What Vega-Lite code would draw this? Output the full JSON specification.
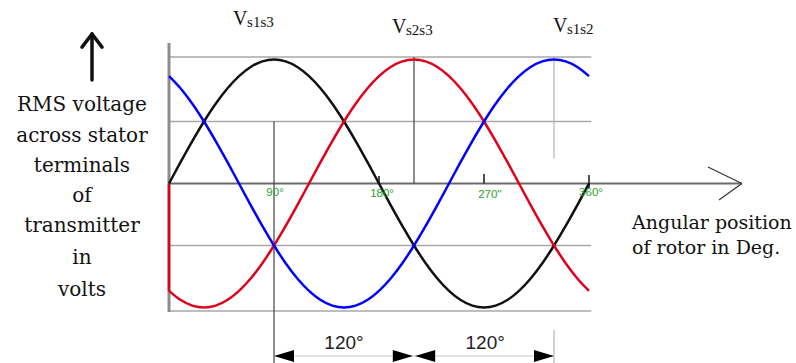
{
  "$schema": "https://vega.github.io/schema/vega-lite/v6.json",
  "width": 796,
  "height": 363,
  "autosize": {"type": "none"},
  "padding": 0,
  "background": "white",
  "config": {"view": {"stroke": null}},
  "encoding": {
    "x": {"field": "deg", "type": "quantitative", "axis": null,
          "scale": {"domain": [-144.86, 537.43], "nice": false, "zero": false}},
    "y": {"field": "v", "type": "quantitative", "axis": null,
          "scale": {"domain": [-1.4476, 1.4798], "nice": false, "zero": false}}
  },
  "datasets": {
    "curves": [
      {"deg": 0, "v": 0, "phase": "Vs1s3"}, {"deg": 10, "v": 0.174, "phase": "Vs1s3"}, {"deg": 20, "v": 0.342, "phase": "Vs1s3"}, {"deg": 30, "v": 0.5, "phase": "Vs1s3"},
      {"deg": 40, "v": 0.643, "phase": "Vs1s3"}, {"deg": 50, "v": 0.766, "phase": "Vs1s3"}, {"deg": 60, "v": 0.866, "phase": "Vs1s3"}, {"deg": 70, "v": 0.94, "phase": "Vs1s3"},
      {"deg": 80, "v": 0.985, "phase": "Vs1s3"}, {"deg": 90, "v": 1, "phase": "Vs1s3"}, {"deg": 100, "v": 0.985, "phase": "Vs1s3"}, {"deg": 110, "v": 0.94, "phase": "Vs1s3"},
      {"deg": 120, "v": 0.866, "phase": "Vs1s3"}, {"deg": 130, "v": 0.766, "phase": "Vs1s3"}, {"deg": 140, "v": 0.643, "phase": "Vs1s3"}, {"deg": 150, "v": 0.5, "phase": "Vs1s3"},
      {"deg": 160, "v": 0.342, "phase": "Vs1s3"}, {"deg": 170, "v": 0.174, "phase": "Vs1s3"}, {"deg": 180, "v": 0, "phase": "Vs1s3"}, {"deg": 190, "v": -0.174, "phase": "Vs1s3"},
      {"deg": 200, "v": -0.342, "phase": "Vs1s3"}, {"deg": 210, "v": -0.5, "phase": "Vs1s3"}, {"deg": 220, "v": -0.643, "phase": "Vs1s3"}, {"deg": 230, "v": -0.766, "phase": "Vs1s3"},
      {"deg": 240, "v": -0.866, "phase": "Vs1s3"}, {"deg": 250, "v": -0.94, "phase": "Vs1s3"}, {"deg": 260, "v": -0.985, "phase": "Vs1s3"}, {"deg": 270, "v": -1, "phase": "Vs1s3"},
      {"deg": 280, "v": -0.985, "phase": "Vs1s3"}, {"deg": 290, "v": -0.94, "phase": "Vs1s3"}, {"deg": 300, "v": -0.866, "phase": "Vs1s3"}, {"deg": 310, "v": -0.766, "phase": "Vs1s3"},
      {"deg": 320, "v": -0.643, "phase": "Vs1s3"}, {"deg": 330, "v": -0.5, "phase": "Vs1s3"}, {"deg": 340, "v": -0.342, "phase": "Vs1s3"}, {"deg": 350, "v": -0.174, "phase": "Vs1s3"},
      {"deg": 360, "v": 0, "phase": "Vs1s3"},

      {"deg": 0, "v": -0.866, "phase": "Vs2s3"}, {"deg": 10, "v": -0.94, "phase": "Vs2s3"}, {"deg": 20, "v": -0.985, "phase": "Vs2s3"}, {"deg": 30, "v": -1, "phase": "Vs2s3"},
      {"deg": 40, "v": -0.985, "phase": "Vs2s3"}, {"deg": 50, "v": -0.94, "phase": "Vs2s3"}, {"deg": 60, "v": -0.866, "phase": "Vs2s3"}, {"deg": 70, "v": -0.766, "phase": "Vs2s3"},
      {"deg": 80, "v": -0.643, "phase": "Vs2s3"}, {"deg": 90, "v": -0.5, "phase": "Vs2s3"}, {"deg": 100, "v": -0.342, "phase": "Vs2s3"}, {"deg": 110, "v": -0.174, "phase": "Vs2s3"},
      {"deg": 120, "v": 0, "phase": "Vs2s3"}, {"deg": 130, "v": 0.174, "phase": "Vs2s3"}, {"deg": 140, "v": 0.342, "phase": "Vs2s3"}, {"deg": 150, "v": 0.5, "phase": "Vs2s3"},
      {"deg": 160, "v": 0.643, "phase": "Vs2s3"}, {"deg": 170, "v": 0.766, "phase": "Vs2s3"}, {"deg": 180, "v": 0.866, "phase": "Vs2s3"}, {"deg": 190, "v": 0.94, "phase": "Vs2s3"},
      {"deg": 200, "v": 0.985, "phase": "Vs2s3"}, {"deg": 210, "v": 1, "phase": "Vs2s3"}, {"deg": 220, "v": 0.985, "phase": "Vs2s3"}, {"deg": 230, "v": 0.94, "phase": "Vs2s3"},
      {"deg": 240, "v": 0.866, "phase": "Vs2s3"}, {"deg": 250, "v": 0.766, "phase": "Vs2s3"}, {"deg": 260, "v": 0.643, "phase": "Vs2s3"}, {"deg": 270, "v": 0.5, "phase": "Vs2s3"},
      {"deg": 280, "v": 0.342, "phase": "Vs2s3"}, {"deg": 290, "v": 0.174, "phase": "Vs2s3"}, {"deg": 300, "v": 0, "phase": "Vs2s3"}, {"deg": 310, "v": -0.174, "phase": "Vs2s3"},
      {"deg": 320, "v": -0.342, "phase": "Vs2s3"}, {"deg": 330, "v": -0.5, "phase": "Vs2s3"}, {"deg": 340, "v": -0.643, "phase": "Vs2s3"}, {"deg": 350, "v": -0.766, "phase": "Vs2s3"},
      {"deg": 360, "v": -0.866, "phase": "Vs2s3"},

      {"deg": 0, "v": 0.866, "phase": "Vs1s2"}, {"deg": 10, "v": 0.766, "phase": "Vs1s2"}, {"deg": 20, "v": 0.643, "phase": "Vs1s2"}, {"deg": 30, "v": 0.5, "phase": "Vs1s2"},
      {"deg": 40, "v": 0.342, "phase": "Vs1s2"}, {"deg": 50, "v": 0.174, "phase": "Vs1s2"}, {"deg": 60, "v": 0, "phase": "Vs1s2"}, {"deg": 70, "v": -0.174, "phase": "Vs1s2"},
      {"deg": 80, "v": -0.342, "phase": "Vs1s2"}, {"deg": 90, "v": -0.5, "phase": "Vs1s2"}, {"deg": 100, "v": -0.643, "phase": "Vs1s2"}, {"deg": 110, "v": -0.766, "phase": "Vs1s2"},
      {"deg": 120, "v": -0.866, "phase": "Vs1s2"}, {"deg": 130, "v": -0.94, "phase": "Vs1s2"}, {"deg": 140, "v": -0.985, "phase": "Vs1s2"}, {"deg": 150, "v": -1, "phase": "Vs1s2"},
      {"deg": 160, "v": -0.985, "phase": "Vs1s2"}, {"deg": 170, "v": -0.94, "phase": "Vs1s2"}, {"deg": 180, "v": -0.866, "phase": "Vs1s2"}, {"deg": 190, "v": -0.766, "phase": "Vs1s2"},
      {"deg": 200, "v": -0.643, "phase": "Vs1s2"}, {"deg": 210, "v": -0.5, "phase": "Vs1s2"}, {"deg": 220, "v": -0.342, "phase": "Vs1s2"}, {"deg": 230, "v": -0.174, "phase": "Vs1s2"},
      {"deg": 240, "v": 0, "phase": "Vs1s2"}, {"deg": 250, "v": 0.174, "phase": "Vs1s2"}, {"deg": 260, "v": 0.342, "phase": "Vs1s2"}, {"deg": 270, "v": 0.5, "phase": "Vs1s2"},
      {"deg": 280, "v": 0.643, "phase": "Vs1s2"}, {"deg": 290, "v": 0.766, "phase": "Vs1s2"}, {"deg": 300, "v": 0.866, "phase": "Vs1s2"}, {"deg": 310, "v": 0.94, "phase": "Vs1s2"},
      {"deg": 320, "v": 0.985, "phase": "Vs1s2"}, {"deg": 330, "v": 1, "phase": "Vs1s2"}, {"deg": 340, "v": 0.985, "phase": "Vs1s2"}, {"deg": 350, "v": 0.94, "phase": "Vs1s2"},
      {"deg": 360, "v": 0.866, "phase": "Vs1s2"}
    ],
    "grid": [
      {"deg": 0, "deg2": 362, "v": 1.02},
      {"deg": 0, "deg2": 362, "v": 0.5},
      {"deg": 0, "deg2": 362, "v": -0.5},
      {"deg": 0, "deg2": 362, "v": -1.028}
    ],
    "axisX": [{"deg": 0, "deg2": 491, "v": 0}],
    "chevron": [
      {"deg": 462, "v": 0.133, "deg2": 491, "v2": 0},
      {"deg": 491, "v": 0, "deg2": 471.4, "v2": -0.133}
    ],
    "axisY": [{"deg": 0, "v": -1.036, "v2": 1.133}],
    "darkV": [
      {"deg": 90, "v": 0.5, "v2": -1.4476},
      {"deg": 210, "v": 1.02, "v2": 0}
    ],
    "lightV": [
      {"deg": 330, "v": 1.02, "v2": 0.2},
      {"deg": 330, "v": -1.181, "v2": -1.4476}
    ],
    "ticks": [
      {"deg": 180, "v": 0.06, "v2": -0.01},
      {"deg": 270, "v": 0.077, "v2": 0},
      {"deg": 360, "v": 0.069, "v2": -0.036}
    ],
    "redStart": [{"deg": 0, "v": 0, "v2": -0.866}],
    "upArrow": [
      {"deg": -66, "v": 0.835, "deg2": -66, "v2": 1.19},
      {"deg": -74.6, "v": 1.1, "deg2": -66, "v2": 1.206},
      {"deg": -66, "v": 1.206, "deg2": -57.4, "v2": 1.1}
    ],
    "dimLine": [{"deg": 90, "deg2": 330, "v": -1.391}],
    "headsLeft": [{"deg": 90, "v": -1.391}, {"deg": 211, "v": -1.391}],
    "headsRight": [{"deg": 209, "v": -1.391}, {"deg": 330, "v": -1.391}],
    "vMain": [
      {"deg": 54.9, "v": 1.278, "label": "V"},
      {"deg": 191.1, "v": 1.214, "label": "V"},
      {"deg": 329.1, "v": 1.222, "label": "V"}
    ],
    "vSub": [
      {"deg": 66.9, "v": 1.262, "label": "s1s3"},
      {"deg": 203.1, "v": 1.198, "label": "s2s3"},
      {"deg": 341.1, "v": 1.206, "label": "s1s2"}
    ],
    "yTitle": [
      {"deg": -74.6, "v": 0.633, "label": "RMS voltage"},
      {"deg": -74.6, "v": 0.383, "label": "across stator"},
      {"deg": -74.6, "v": 0.141, "label": "terminals"},
      {"deg": -74.6, "v": -0.101, "label": "of"},
      {"deg": -74.6, "v": -0.343, "label": "transmitter"},
      {"deg": -74.6, "v": -0.601, "label": "in"},
      {"deg": -74.6, "v": -0.859, "label": "volts"}
    ],
    "xTitle": [
      {"deg": 396.9, "v": -0.319, "label": "Angular position"},
      {"deg": 396.9, "v": -0.52, "label": "of rotor in Deg."}
    ],
    "degLabels": [
      {"deg": 90.9, "v": -0.077, "label": "90°"},
      {"deg": 182.6, "v": -0.085, "label": "180°"},
      {"deg": 275.1, "v": -0.093, "label": "270''"},
      {"deg": 361.7, "v": -0.077, "label": "360°"}
    ],
    "spans": [
      {"deg": 150, "v": -1.286, "label": "120°"},
      {"deg": 271, "v": -1.286, "label": "120°"}
    ]
  },
  "layer": [
    {"data": {"name": "grid"}, "mark": {"type": "rule", "color": "#a8a8a8", "strokeWidth": 1.5},
     "encoding": {"x2": {"field": "deg2"}}},
    {"data": {"name": "axisY"}, "mark": {"type": "rule", "color": "#8c8c8c", "strokeWidth": 3},
     "encoding": {"y2": {"field": "v2"}}},
    {"data": {"name": "axisX"}, "mark": {"type": "rule", "color": "#6a6a6a", "strokeWidth": 2},
     "encoding": {"x2": {"field": "deg2"}}},
    {"data": {"name": "chevron"}, "mark": {"type": "rule", "color": "#333333", "strokeWidth": 1.2},
     "encoding": {"x2": {"field": "deg2"}, "y2": {"field": "v2"}}},
    {"data": {"name": "darkV"}, "mark": {"type": "rule", "color": "#444444", "strokeWidth": 1.2},
     "encoding": {"y2": {"field": "v2"}}},
    {"data": {"name": "lightV"}, "mark": {"type": "rule", "color": "#b5b5b5", "strokeWidth": 1.2},
     "encoding": {"y2": {"field": "v2"}}},
    {"data": {"name": "ticks"}, "mark": {"type": "rule", "color": "#222222", "strokeWidth": 1.6},
     "encoding": {"y2": {"field": "v2"}}},
    {"data": {"name": "dimLine"}, "mark": {"type": "rule", "color": "#c4c4c4", "strokeWidth": 1},
     "encoding": {"x2": {"field": "deg2"}}},
    {"data": {"name": "redStart"}, "mark": {"type": "rule", "color": "#e0001b", "strokeWidth": 2.5},
     "encoding": {"y2": {"field": "v2"}}},
    {"data": {"name": "curves"},
     "mark": {"type": "line", "strokeWidth": 2.5, "interpolate": "monotone"},
     "encoding": {
       "color": {"field": "phase", "type": "nominal", "legend": null,
                 "scale": {"domain": ["Vs1s3", "Vs2s3", "Vs1s2"], "range": ["#111111", "#e0001b", "#0000ff"]}}
     }},
    {"data": {"name": "upArrow"}, "mark": {"type": "rule", "color": "#111111", "strokeWidth": 3.5, "strokeCap": "round"},
     "encoding": {"x2": {"field": "deg2"}, "y2": {"field": "v2"}}},
    {"data": {"name": "headsLeft"},
     "mark": {"type": "point", "shape": "M0,0L2,-0.6L2,0.6Z", "size": 400, "filled": true, "color": "#000000", "opacity": 1}},
    {"data": {"name": "headsRight"},
     "mark": {"type": "point", "shape": "M0,0L-2,-0.6L-2,0.6Z", "size": 400, "filled": true, "color": "#000000", "opacity": 1}},
    {"data": {"name": "vMain"},
     "mark": {"type": "text", "font": "Liberation Serif", "fontSize": 20, "align": "left", "baseline": "alphabetic", "color": "#111111"},
     "encoding": {"text": {"field": "label"}}},
    {"data": {"name": "vSub"},
     "mark": {"type": "text", "font": "Liberation Serif", "fontSize": 15, "align": "left", "baseline": "alphabetic", "color": "#111111"},
     "encoding": {"text": {"field": "label"}}},
    {"data": {"name": "yTitle"},
     "mark": {"type": "text", "font": "DejaVu Serif", "fontSize": 20, "align": "center", "baseline": "middle", "color": "#111111"},
     "encoding": {"text": {"field": "label"}}},
    {"data": {"name": "xTitle"},
     "mark": {"type": "text", "font": "DejaVu Serif", "fontSize": 19, "align": "left", "baseline": "middle", "color": "#111111"},
     "encoding": {"text": {"field": "label"}}},
    {"data": {"name": "degLabels"},
     "mark": {"type": "text", "font": "Liberation Sans", "fontSize": 11.5, "align": "center", "baseline": "middle", "color": "#2e9e2e"},
     "encoding": {"text": {"field": "label"}}},
    {"data": {"name": "spans"},
     "mark": {"type": "text", "font": "Liberation Sans", "fontSize": 19, "align": "center", "baseline": "middle", "color": "#222222"},
     "encoding": {"text": {"field": "label"}}}
  ]
}
